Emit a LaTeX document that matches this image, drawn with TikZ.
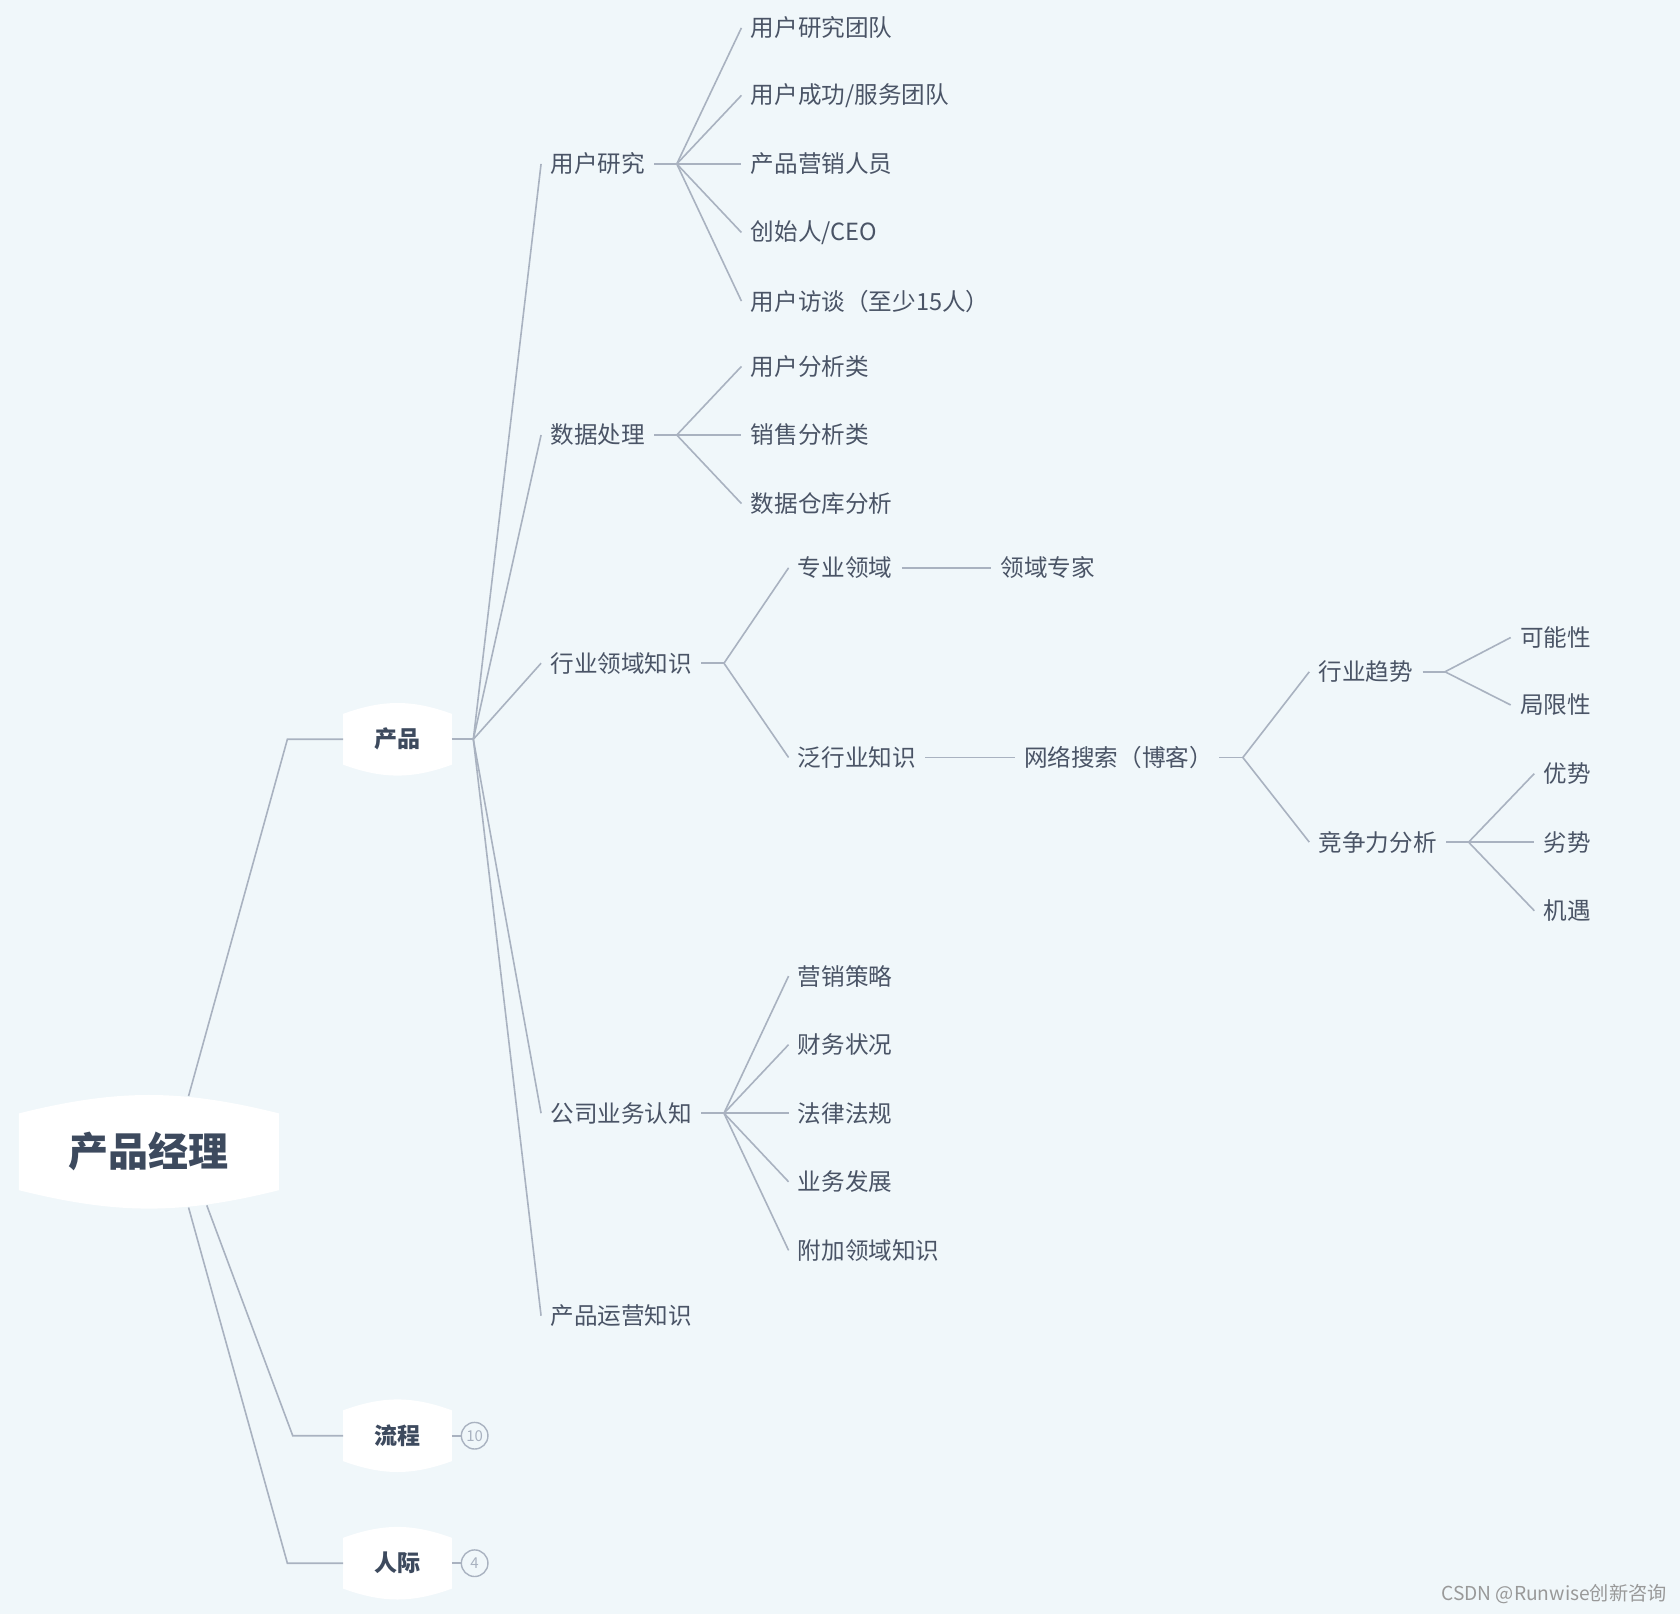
\documentclass[tikz,border=0pt]{standalone}
\usepackage{fontspec}
\usetikzlibrary{calc,backgrounds}
\newfontfamily\cjk{Noto Sans CJK SC}
\definecolor{bgblue}{HTML}{F0F7FA}
\definecolor{linkgray}{HTML}{A9B2C0}
\definecolor{inkslate}{HTML}{4A5466}
\definecolor{hubslate}{HTML}{3D4A5E}
\tikzstyle{t} = [anchor=west, inner xsep=4.5pt, inner ysep=1pt, text=inkslate, font=\cjk\fontsize{11.8}{14}\selectfont]
\newcommand\bulgeshape[2]{\fill[white] (#1.north west) to[bend left=#2] (#1.north east) -- (#1.south east) to[bend left=#2] (#1.south west) -- cycle;}

\begin{document}
\begin{tikzpicture}[x=0.5357pt, y=-0.5357pt,
		link/.style={draw=linkgray, line width=0.8pt},
		hub/.style={minimum width=54pt, minimum height=25pt, inner sep=0, text=hubslate, font=\cjk\bfseries\fontsize{11.5}{14}\selectfont},
		rootnode/.style={minimum width=129.6pt, minimum height=38pt, inner sep=0, text=hubslate, font=\cjk\bfseries\fontsize{20}{24}\selectfont},
		count/.style={circle, draw=linkgray, line width=0.7pt, minimum size=13.3pt, inner sep=0, text=linkgray, font=\cjk\fontsize{7.5}{8}\selectfont}]
		\useasboundingbox (0,0) rectangle (1568,1506.4);
		% main topics
		\node (pm) [rootnode] at (139,1075) {产品经理};
		\node (prod) [hub] at (371,690) {产品};
		\node (flow) [hub] at (371,1340) {流程};
		\node (ppl) [hub] at (371,1459) {人际};
		\node (flown) [count] at (443,1340) {10};
		\node (ppln) [count] at (443,1459) {4};
		\begin{scope}[on background layer]
			\fill[bgblue] (0,0) rectangle (1568,1506.4);
			\bulgeshape{pm}{14}
			\bulgeshape{prod}{20}
			\bulgeshape{flow}{20}
			\bulgeshape{ppl}{20}
		\end{scope}
		\draw [link] ($(pm.center)+(37,-52)$) -- ($(prod.west)+(-52,0)$) -- (prod.west);
		\draw [link] ($(pm.center)+(54,50)$) -- ($(flow.west)+(-47,0)$) -- (flow.west);
		\draw [link] ($(pm.center)+(37,52)$) -- ($(ppl.west)+(-52,0)$) -- (ppl.west);
		\draw [link] (flow.east) -- (flown.west);
		\draw [link] (ppl.east) -- (ppln.west);

		% 产品
		\node (ur) [t] at (505,153) {用户研究};
		\node (dp) [t] at (505,406) {数据处理};
		\node (hy) [t] at (505,619) {行业领域知识};
		\node (gs) [t] at (505,1039) {公司业务认知};
		\node (yy) [t] at (505,1228) {产品运营知识};
		\draw [link] (prod.east) -- ++(20,0) coordinate (jprod);
		\foreach \c in {ur,dp,hy,gs,yy}
			\draw [link] (jprod) -- (\c.west);

		% 用户研究
		\node (ur1) [t] at (692,26) {用户研究团队};
		\node (ur2) [t] at (692,89) {用户成功/服务团队};
		\node (ur3) [t] at (692,153) {产品营销人员};
		\node (ur4) [t] at (692,217) {创始人/CEO};
		\node (ur5) [t] at (692,281) {用户访谈（至少15人）};
		\draw [link] (ur.east) -- ++(21,0) coordinate (jur);
		\foreach \c in {ur1,ur2,ur3,ur4,ur5}
			\draw [link] (jur) -- (\c.west);

		% 数据处理
		\node (dp1) [t] at (692,342) {用户分析类};
		\node (dp2) [t] at (692,406) {销售分析类};
		\node (dp3) [t] at (692,470) {数据仓库分析};
		\draw [link] (dp.east) -- ++(21,0) coordinate (jdp);
		\foreach \c in {dp1,dp2,dp3}
			\draw [link] (jdp) -- (\c.west);

		% 行业领域知识
		\node (zy) [t] at (736,530) {专业领域};
		\node (fhy) [t] at (736,707) {泛行业知识};
		\draw [link] (hy.east) -- ++(21,0) coordinate (jhy);
		\foreach \c in {zy,fhy}
			\draw [link] (jhy) -- (\c.west);
		\node (zj) [t] at (925,530) {领域专家};
		\draw [link] (zy.east) -- (zj.west);
		\node (wl) [t] at (947,707) {网络搜索（博客）};
		\draw [link] (fhy.east) -- (wl.west);
		\node (qs) [t] at (1222,627) {行业趋势};
		\node (jz) [t] at (1222,786) {竞争力分析};
		\coordinate (jwl) at (1160,707);
		\draw [link] ($(jwl)+(-22,0)$) -- (jwl);
		\foreach \c in {qs,jz}
			\draw [link] (jwl) -- (\c.west);
		\node (qs1) [t] at (1410,595) {可能性};
		\node (qs2) [t] at (1410,658) {局限性};
		\draw [link] (qs.east) -- ++(21,0) coordinate (jqs);
		\foreach \c in {qs1,qs2}
			\draw [link] (jqs) -- (\c.west);
		\node (jz1) [t] at (1432,722) {优势};
		\node (jz2) [t] at (1432,786) {劣势};
		\node (jz3) [t] at (1432,850) {机遇};
		\draw [link] (jz.east) -- ++(21,0) coordinate (jjz);
		\foreach \c in {jz1,jz2,jz3}
			\draw [link] (jjz) -- (\c.west);

		% 公司业务认知
		\node (gs1) [t] at (736,911) {营销策略};
		\node (gs2) [t] at (736,975) {财务状况};
		\node (gs3) [t] at (736,1039) {法律法规};
		\node (gs4) [t] at (736,1103) {业务发展};
		\node (gs5) [t] at (736,1167) {附加领域知识};
		\draw [link] (gs.east) -- ++(21,0) coordinate (jgs);
		\foreach \c in {gs1,gs2,gs3,gs4,gs5}
			\draw [link] (jgs) -- (\c.west);

		\node (wm) [anchor=east, inner sep=0, text=black!40, font=\cjk\fontsize{9.6}{11}\selectfont] at (1556,1488) {CSDN @Runwise创新咨询};
	\end{tikzpicture}
\end{document}
